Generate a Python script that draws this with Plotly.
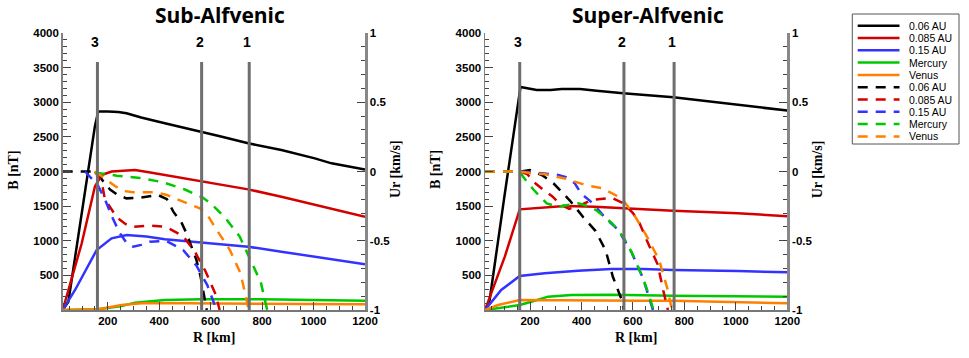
import plotly.graph_objects as go

# ---------------- data ----------------
SERIES_NAMES = ["0.06 AU", "0.085 AU", "0.15 AU", "Mercury", "Venus"]
PANEL_TITLES = ["Sub-Alfvenic", "Super-Alfvenic"]
REGION_LABELS = ["3", "2", "1"]
REGION_R_SUB = [160, 565, 750]
REGION_R_SUP = [160, 565, 760]

X_TICKS = [200, 400, 600, 800, 1000, 1200]
B_TICKS = [500, 1000, 1500, 2000, 2500, 3000, 3500, 4000]
UR_TICKS = [-1, -0.5, 0, 0.5, 1]
UR_TICKTEXT = ["-1", "-0.5", "0", "0.5", "1"]

# --- Sub-Alfvenic: B [nT] (solid) ---
R_SUB_B_006 = [25, 47, 150, 163, 200, 241, 273, 330, 422, 500, 565, 636, 746, 875, 1005, 1070, 1200]
B_SUB_006 = [0, 120, 2650, 2865, 2865, 2860, 2840, 2780, 2696, 2630, 2575, 2510, 2407, 2310, 2190, 2118, 2030]
R_SUB_B_0085 = [25, 99, 150, 176, 215, 254, 306, 360, 422, 500, 565, 636, 746, 875, 1005, 1100, 1200]
B_SUB_0085 = [0, 963, 1781, 1949, 2000, 2012, 2022, 1990, 1949, 1900, 1853, 1810, 1742, 1636, 1516, 1430, 1347]
R_SUB_B_015 = [25, 73, 157, 215, 274, 350, 422, 565, 636, 746, 875, 1005, 1200]
B_SUB_015 = [0, 289, 866, 1035, 1083, 1060, 1021, 977, 955, 914, 842, 770, 660]
R_SUB_B_MERC = [25, 163, 254, 306, 422, 565, 800, 1000, 1200]
B_SUB_MERC = [0, 10, 58, 106, 144, 154, 154, 145, 134]
R_SUB_B_VENUS = [25, 163, 254, 332, 500, 800, 1200]
B_SUB_VENUS = [0, 10, 72, 96, 96, 92, 82]

# --- Sub-Alfvenic: Ur [km/s] (dashed) ---
R_SUB_U_006 = [25, 150, 163, 178, 209, 240, 273, 325, 396, 430, 455, 487, 507, 526, 545, 561, 572, 580, 585]
U_SUB_006 = [0, 0, -0.01, -0.06, -0.13, -0.17, -0.194, -0.19, -0.17, -0.2, -0.29, -0.37, -0.45, -0.54, -0.64, -0.76, -0.86, -0.95, -1.0]
R_SUB_U_0085 = [150, 176, 189, 235, 270, 299, 361, 426, 493, 539, 580, 620, 635]
U_SUB_0085 = [0, -0.07, -0.2, -0.33, -0.38, -0.4, -0.39, -0.4, -0.466, -0.58, -0.72, -0.89, -1.0]
R_SUB_U_015 = [112, 124, 161, 193, 220, 247, 275, 299, 330, 364, 426, 493, 545, 587, 620, 623]
U_SUB_015 = [0, -0.025, -0.097, -0.218, -0.34, -0.446, -0.52, -0.543, -0.53, -0.507, -0.5, -0.567, -0.68, -0.82, -0.976, -1.0]
R_SUB_U_MERC = [150, 235, 325, 416, 500, 571, 600, 655, 713, 752, 795, 820]
U_SUB_MERC = [-0.008, -0.03, -0.047, -0.078, -0.13, -0.19, -0.23, -0.33, -0.47, -0.63, -0.8, -1.0]
R_SUB_U_VENUS = [150, 170, 228, 260, 299, 390, 430, 480, 558, 590, 616, 675, 716, 740, 748]
U_SUB_VENUS = [0, -0.025, -0.105, -0.14, -0.15, -0.15, -0.17, -0.206, -0.266, -0.32, -0.4, -0.567, -0.735, -0.93, -1.0]

# --- Super-Alfvenic: B [nT] (solid) ---
R_SUP_B_006 = [25, 43, 102, 163, 226, 280, 323, 394, 459, 562, 757, 977, 1200]
B_SUP_006 = [0, 144, 1680, 3220, 3177, 3177, 3191, 3191, 3167, 3129, 3071, 2975, 2880]
R_SUP_B_0085 = [25, 102, 160, 257, 335, 451, 568, 756, 1008, 1200]
B_SUP_0085 = [0, 770, 1454, 1483, 1502, 1492, 1468, 1434, 1396, 1355]
R_SUP_B_015 = [25, 88, 160, 257, 386, 516, 639, 756, 1008, 1200]
B_SUP_015 = [0, 289, 491, 530, 568, 592, 592, 578, 563, 544]
R_SUP_B_MERC = [25, 100, 160, 205, 270, 360, 516, 756, 1200]
B_SUP_MERC = [0, 35, 72, 120, 193, 217, 221, 207, 193]
R_SUP_B_VENUS = [25, 76, 160, 300, 500, 639, 756, 1000, 1200]
B_SUP_VENUS = [0, 72, 144, 144, 140, 135, 132, 118, 96]

# --- Super-Alfvenic: Ur [km/s] (dashed) ---
R_SUP_U_006 = [25, 165, 200, 250, 291, 355, 407, 455, 494, 522, 555, 565]
U_SUP_006 = [0, 0, 0.01, -0.03, -0.085, -0.21, -0.33, -0.43, -0.57, -0.76, -0.92, -1.0]
R_SUP_U_0085 = [25, 160, 190, 216, 250, 287, 320, 352, 400, 440, 517, 563, 600, 625, 664, 696, 718, 736]
U_SUP_0085 = [0, 0, -0.02, -0.078, -0.13, -0.18, -0.24, -0.27, -0.24, -0.206, -0.19, -0.23, -0.3, -0.37, -0.54, -0.67, -0.86, -1.0]
R_SUP_U_015 = [25, 160, 230, 309, 340, 374, 399, 432, 458, 490, 542, 594, 639, 678]
U_SUP_015 = [0, 0, -0.01, -0.025, -0.04, -0.085, -0.16, -0.21, -0.26, -0.33, -0.42, -0.58, -0.77, -1.0]
R_SUP_U_MERC = [25, 160, 174, 213, 265, 309, 387, 426, 458, 490, 516, 542, 568, 594, 613, 639, 660, 680]
U_SUP_MERC = [0, 0, -0.04, -0.13, -0.23, -0.255, -0.23, -0.25, -0.28, -0.33, -0.37, -0.42, -0.49, -0.58, -0.66, -0.77, -0.88, -1.0]
R_SUP_U_VENUS = [25, 160, 200, 260, 335, 393, 420, 480, 542, 563, 600, 633, 656, 702, 733, 746, 752]
U_SUP_VENUS = [0, 0, -0.01, -0.02, -0.05, -0.085, -0.1, -0.12, -0.18, -0.21, -0.3, -0.4, -0.475, -0.64, -0.84, -0.95, -1.0]

# ---------------- styling ----------------
W, H = 969, 358
COLORS = ["#000000", "#d40000", "#3333ff", "#00c800", "#ff8000"]
LW = 2.5
DASH = "10px,8px"
TICKFONT = dict(family="Liberation Sans, Arial", size=11.5, color="black", weight="bold")
SERIF = "Liberation Serif, Times New Roman"


def px(x):
    return x / W


def py(y):
    return 1 - y / H


PLOT_L = [62.7, 485.0]
PLOT_R = [365.0, 787.3]
PLOT_T, PLOT_B = 33.0, 310.0

fig = go.Figure()

panels = [
    dict(xa="x", ya="y", ya2="y2",
         solid=[(R_SUB_B_006, B_SUB_006), (R_SUB_B_0085, B_SUB_0085), (R_SUB_B_015, B_SUB_015),
                (R_SUB_B_MERC, B_SUB_MERC), (R_SUB_B_VENUS, B_SUB_VENUS)],
         dashed=[(R_SUB_U_006, U_SUB_006), (R_SUB_U_0085, U_SUB_0085), (R_SUB_U_015, U_SUB_015),
                 (R_SUB_U_MERC, U_SUB_MERC), (R_SUB_U_VENUS, U_SUB_VENUS)],
         regions=REGION_R_SUB),
    dict(xa="x2", ya="y3", ya2="y4",
         solid=[(R_SUP_B_006, B_SUP_006), (R_SUP_B_0085, B_SUP_0085), (R_SUP_B_015, B_SUP_015),
                (R_SUP_B_MERC, B_SUP_MERC), (R_SUP_B_VENUS, B_SUP_VENUS)],
         dashed=[(R_SUP_U_006, U_SUP_006), (R_SUP_U_0085, U_SUP_0085), (R_SUP_U_015, U_SUP_015),
                 (R_SUP_U_MERC, U_SUP_MERC), (R_SUP_U_VENUS, U_SUP_VENUS)],
         regions=REGION_R_SUP),
]

for p in panels:
    for (r, b), c, n in zip(p["solid"], COLORS, SERIES_NAMES):
        fig.add_trace(go.Scatter(x=r, y=b, mode="lines", name=n, showlegend=False,
                                 line=dict(color=c, width=LW), xaxis=p["xa"], yaxis=p["ya"]))
    for (r, u), c, n in zip(p["dashed"], COLORS, SERIES_NAMES):
        fig.add_trace(go.Scatter(x=r, y=u, mode="lines", name=n, showlegend=False,
                                 line=dict(color=c, width=LW, dash=DASH), xaxis=p["xa"], yaxis=p["ya2"]))

shapes = []
annotations = []

# region lines and labels
for i, p in enumerate(panels):
    for r, lab in zip(p["regions"], REGION_LABELS):
        shapes.append(dict(type="line", xref=p["xa"], yref=p["ya"], x0=r, x1=r, y0=0, y1=3580,
                           line=dict(color="#6e6e6e", width=3), layer="above"))
        annotations.append(dict(text=lab, xref=p["xa"], yref=p["ya"], x=r - 8, y=3870, showarrow=False,
                                font=dict(family="Liberation Sans, Arial", size=14, color="black", weight="bold")))
    # titles
    cx = (PLOT_L[i] + PLOT_R[i]) / 2
    annotations.append(dict(text=PANEL_TITLES[i], xref="paper", yref="paper",
                            x=px(220 if i == 0 else 648), y=1.0, showarrow=False,
                            xanchor="center", yanchor="top", borderpad=0,
                            font=dict(family="Open Sans", size=21, color="black", weight="bold")))
    annotations.append(dict(text="R [km]", xref="paper", yref="paper", x=px(cx), y=py(337),
                            showarrow=False, xanchor="center", yanchor="middle",
                            font=dict(family=SERIF, size=14, color="black", weight="bold")))
    annotations.append(dict(text="B [nT]", xref="paper", yref="paper", x=px(PLOT_L[i] - 50), y=py(170),
                            showarrow=False, xanchor="center", yanchor="middle", textangle=-90,
                            font=dict(family=SERIF, size=14, color="black", weight="bold")))
    annotations.append(dict(text="Ur [km/s]", xref="paper", yref="paper", x=px(PLOT_R[i] + 30), y=py(169),
                            showarrow=False, xanchor="center", yanchor="middle", textangle=-90,
                            font=dict(family=SERIF, size=14, color="black", weight="bold")))

# custom legend
LEG_L, LEG_R, LEG_T, LEG_B = 852.3, 959.0, 14.0, 144.0
shapes.append(dict(type="rect", xref="paper", yref="paper", x0=px(LEG_L), x1=px(LEG_R),
                   y0=py(LEG_B), y1=py(LEG_T), line=dict(color="#555555", width=1), fillcolor="white",
                   layer="above"))
legend_entries = [(n, c, "solid") for n, c in zip(SERIES_NAMES, COLORS)] + \
                 [(n, c, DASH) for n, c in zip(SERIES_NAMES, COLORS)]
for k, (n, c, d) in enumerate(legend_entries):
    yy = 25.7 + k * 12.3
    shapes.append(dict(type="line", xref="paper", yref="paper", x0=px(857.7), x1=px(899.5),
                       y0=py(yy), y1=py(yy), line=dict(color=c, width=2.5, dash=d), layer="above"))
    annotations.append(dict(text=n, xref="paper", yref="paper", x=px(906.5), y=py(yy),
                            showarrow=False, xanchor="left", yanchor="middle",
                            font=dict(family="Liberation Sans, Arial", size=10.5, color="black")))


def xaxis_cfg(i):
    return dict(domain=[px(PLOT_L[i]), px(PLOT_R[i])], range=[25, 1200], tickmode="array",
                tickvals=X_TICKS, ticks="inside", ticklen=8, tickwidth=1, tickcolor="#444",
                showline=True, linecolor="#777", linewidth=1.5, showgrid=False, zeroline=False,
                tickfont=TICKFONT, anchor="y" if i == 0 else "y3", automargin=False,
                minor=dict(ticks="inside", tickmode="array",
                           tickvals=[v for v in range(50, 1201, 50) if v % 200], ticklen=4,
                           tickcolor="#444", tickwidth=1))


def yaxis_cfg(anchor):
    return dict(domain=[py(PLOT_B), py(PLOT_T)], range=[0, 4000], tickmode="array",
                tickvals=B_TICKS, ticks="inside", ticklen=8, tickwidth=1, tickcolor="#444",
                showline=True, linecolor="#808080", linewidth=1.5, showgrid=False, zeroline=False,
                tickfont=TICKFONT, anchor=anchor, automargin=False,
                minor=dict(ticks="inside", tickmode="array",
                           tickvals=[v for v in range(100, 4000, 100) if v % 500], ticklen=4,
                           tickcolor="#444", tickwidth=1))


def yaxis2_cfg(anchor, overlay):
    return dict(domain=[py(PLOT_B), py(PLOT_T)], range=[-1, 1], tickmode="array",
                tickvals=UR_TICKS, ticktext=UR_TICKTEXT, ticks="inside", ticklen=8, tickwidth=1,
                tickcolor="#444", showline=True, linecolor="#888", linewidth=2.5, showgrid=False,
                zeroline=False, tickfont=TICKFONT, anchor=anchor, overlaying=overlay, side="right",
                automargin=False,
                minor=dict(ticks="inside", tickmode="array",
                           tickvals=[round(-1 + 0.1 * k, 2) for k in range(1, 20) if k % 5], ticklen=4,
                           tickcolor="#444", tickwidth=1))


fig.update_layout(
    width=W, height=H, margin=dict(l=0, r=0, t=0, b=0, autoexpand=False),
    paper_bgcolor="white", plot_bgcolor="white", showlegend=False, hovermode=False,
    xaxis=xaxis_cfg(0), xaxis2=xaxis_cfg(1),
    yaxis=yaxis_cfg("x"), yaxis2=yaxis2_cfg("x", "y"),
    yaxis3=yaxis_cfg("x2"), yaxis4=yaxis2_cfg("x2", "y3"),
    shapes=shapes, annotations=annotations,
)

fig.write_html("out.html", config={"displayModeBar": False, "staticPlot": True},
               post_script="document.body.style.margin='0';document.body.style.overflow='hidden';")
